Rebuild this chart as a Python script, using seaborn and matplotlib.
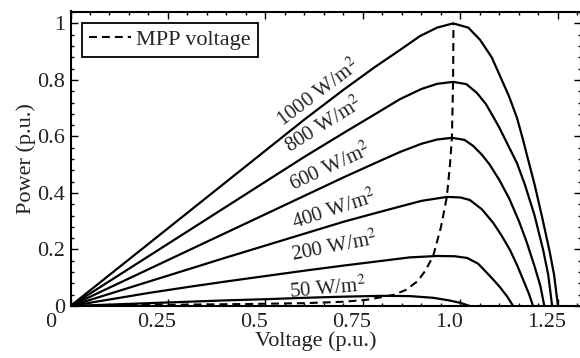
import numpy as np
import pandas as pd
import matplotlib
matplotlib.use("Agg")
import matplotlib.pyplot as plt
import matplotlib.transforms as mtransforms
from matplotlib.ticker import AutoMinorLocator, FixedLocator
import seaborn as sns

# ---------------- data ----------------
irradiance_labels = ["1000", "800", "600", "400", "200", "50"]

v_1000 = [0.0, 0.10, 0.20, 0.30, 0.40, 0.50, 0.60, 0.70, 0.78, 0.845, 0.896, 0.94, 0.981,
          1.02, 1.05, 1.08, 1.101, 1.125, 1.145, 1.16, 1.173, 1.19, 1.21, 1.229, 1.24, 1.25]
p_1000 = [0.0, 0.11, 0.22, 0.33, 0.44, 0.55, 0.66, 0.765, 0.845, 0.906, 0.955, 0.985, 1.0,
          0.985, 0.942, 0.88, 0.815, 0.74, 0.665, 0.59, 0.52, 0.43, 0.31, 0.19, 0.11, 0.0]

v_800 = [0.0, 0.10, 0.20, 0.30, 0.40, 0.50, 0.60, 0.70, 0.78, 0.845, 0.90, 0.94, 0.981,
         1.015, 1.042, 1.065, 1.083, 1.10, 1.119, 1.145, 1.165, 1.19, 1.212, 1.225, 1.235]
p_800 = [0.0, 0.088, 0.176, 0.264, 0.352, 0.44, 0.528, 0.612, 0.678, 0.732, 0.768, 0.786, 0.793,
         0.785, 0.754, 0.715, 0.672, 0.63, 0.577, 0.505, 0.43, 0.32, 0.198, 0.11, 0.0]

v_600 = [0.0, 0.10, 0.20, 0.30, 0.40, 0.50, 0.60, 0.70, 0.78, 0.845, 0.90, 0.94, 0.978,
         1.01, 1.032, 1.055, 1.075, 1.10, 1.125, 1.15, 1.17, 1.19, 1.205, 1.215]
p_600 = [0.0, 0.065, 0.13, 0.195, 0.26, 0.325, 0.39, 0.455, 0.505, 0.545, 0.574, 0.589, 0.595,
         0.588, 0.567, 0.535, 0.50, 0.445, 0.38, 0.30, 0.225, 0.14, 0.07, 0.0]

v_400 = [0.0, 0.10, 0.20, 0.30, 0.40, 0.50, 0.60, 0.70, 0.78, 0.845, 0.90, 0.965,
         1.0, 1.024, 1.055, 1.084, 1.105, 1.127, 1.145, 1.16, 1.175, 1.186]
p_400 = [0.0, 0.043, 0.086, 0.129, 0.172, 0.214, 0.256, 0.298, 0.328, 0.352, 0.372, 0.386,
         0.384, 0.375, 0.342, 0.294, 0.25, 0.198, 0.145, 0.095, 0.045, 0.0]

v_200 = [0.0, 0.10, 0.20, 0.30, 0.40, 0.50, 0.60, 0.70, 0.80, 0.87, 0.94, 0.985,
         1.017, 1.045, 1.068, 1.085, 1.101, 1.12, 1.135]
p_200 = [0.0, 0.023, 0.046, 0.067, 0.087, 0.106, 0.125, 0.143, 0.16, 0.172, 0.177, 0.176,
         0.170, 0.150, 0.117, 0.092, 0.067, 0.033, 0.0]

v_50 = [0.0, 0.10, 0.20, 0.30, 0.40, 0.50, 0.60, 0.70, 0.80, 0.87, 0.93, 0.97, 1.0, 1.024]
p_50 = [0.0, 0.005, 0.010, 0.015, 0.020, 0.024, 0.029, 0.033, 0.036, 0.035, 0.029, 0.020, 0.011, 0.0]

v_mpp = [0.15, 0.30, 0.45, 0.60, 0.70, 0.76, 0.80, 0.83, 0.86, 0.89, 0.91, 0.93, 0.95,
         0.965, 0.973, 0.978, 0.981, 0.982]
p_mpp = [0.003, 0.005, 0.007, 0.010, 0.015, 0.022, 0.032, 0.040, 0.057, 0.088, 0.125, 0.177, 0.28,
         0.386, 0.50, 0.595, 0.793, 1.0]

label_v = [0.635, 0.65, 0.665, 0.675, 0.678, 0.66]
label_p = [0.754, 0.64, 0.49, 0.34, 0.21, 0.062]
label_rot = [37, 32, 25, 18, 11, 5]

x_ticks = [0, 0.25, 0.5, 0.75, 1.0, 1.25]
x_ticklabels = ["0", "0.25", "0.5", "0.75", "1.0", "1.25"]
y_ticks = [0, 0.2, 0.4, 0.6, 0.8, 1.0]
y_ticklabels = ["0", "0.2", "0.4", "0.6", "0.8", "1"]

# ---------------- build table ----------------
curves_v = [v_1000, v_800, v_600, v_400, v_200, v_50]
curves_p = [p_1000, p_800, p_600, p_400, p_200, p_50]
frames = []
for lab, vv, pp in zip(irradiance_labels, curves_v, curves_p):
    frames.append(pd.DataFrame({"V": vv, "P": pp, "G": lab}))
df = pd.concat(frames, ignore_index=True)
df_mpp = pd.DataFrame({"V": v_mpp, "P": p_mpp})

# ---------------- style ----------------
FS = 16
sns.set_style("ticks")
plt.rcParams["font.family"] = ["Liberation Serif", "DejaVu Serif"]
plt.rcParams["mathtext.fontset"] = "stix"
plt.rcParams["font.size"] = FS

fig = plt.figure(figsize=(5.8, 3.58), dpi=100)
ax = fig.add_axes([70.5 / 580, 52 / 358, 510.5 / 580, 294.5 / 358])

sns.lineplot(data=df, x="V", y="P", units="G", estimator=None, sort=False,
             color="black", lw=1.6, legend=False, ax=ax)
sns.lineplot(data=df_mpp, x="V", y="P", sort=False, color="black", lw=1.5,
             dashes=False, ax=ax, label="MPP voltage")
ax.lines[-1].set_dashes((3.8, 2.4))

for lab, xv, yv, rot in zip(irradiance_labels, label_v, label_p, label_rot):
    ax.text(xv, yv, lab + r" W/m$^2$", rotation=rot, rotation_mode="anchor",
            ha="center", va="center", fontsize=15, color="#222222")

ax.set_xlim(0, 1.309)
ax.set_ylim(0, 1.042)
ax.xaxis.set_major_locator(FixedLocator(x_ticks))
ax.yaxis.set_major_locator(FixedLocator(y_ticks))
ax.set_xticklabels(x_ticklabels)
ax.set_yticklabels(y_ticklabels)
ax.xaxis.set_minor_locator(AutoMinorLocator(5))
ax.yaxis.set_minor_locator(AutoMinorLocator(5))
ax.tick_params(which="both", direction="in", top=True, right=True, width=1.0,
               color="black", labelcolor="#222222", labelsize=FS)
ax.tick_params(which="major", length=5)
ax.tick_params(which="minor", length=2.5)
ax.tick_params(axis="x", pad=5)
ax.tick_params(axis="y", pad=4)

for sp in ax.spines.values():
    sp.set_linewidth(1.5)
    sp.set_color("black")

ax.set_xlabel("Voltage (p.u.)", fontsize=FS, color="#222222")
ax.set_ylabel("Power (p.u.)", fontsize=FS, color="#222222")
ax.xaxis.set_label_coords(0.481, -0.085)
ax.yaxis.set_label_coords(-0.068, 0.5)

# shift x tick labels left like in the reference
for i, t in enumerate(ax.get_xticklabels()):
    dx = -20 if i == 0 else -11
    t.set_transform(t.get_transform() + mtransforms.ScaledTranslation(dx / 100, 0, fig.dpi_scale_trans))

leg = ax.legend(loc="upper left", bbox_to_anchor=(0.0225, 0.961), borderaxespad=0,
                frameon=True, fancybox=False, fontsize=FS, handlelength=1.9,
                handletextpad=0.25, borderpad=0.3)
leg.get_frame().set_edgecolor("black")
leg.get_frame().set_linewidth(1.3)
leg.get_frame().set_alpha(1)
for h in leg.get_lines():
    h.set_dashes((3.8, 2.4))

fig.savefig("out.png", dpi=100)
